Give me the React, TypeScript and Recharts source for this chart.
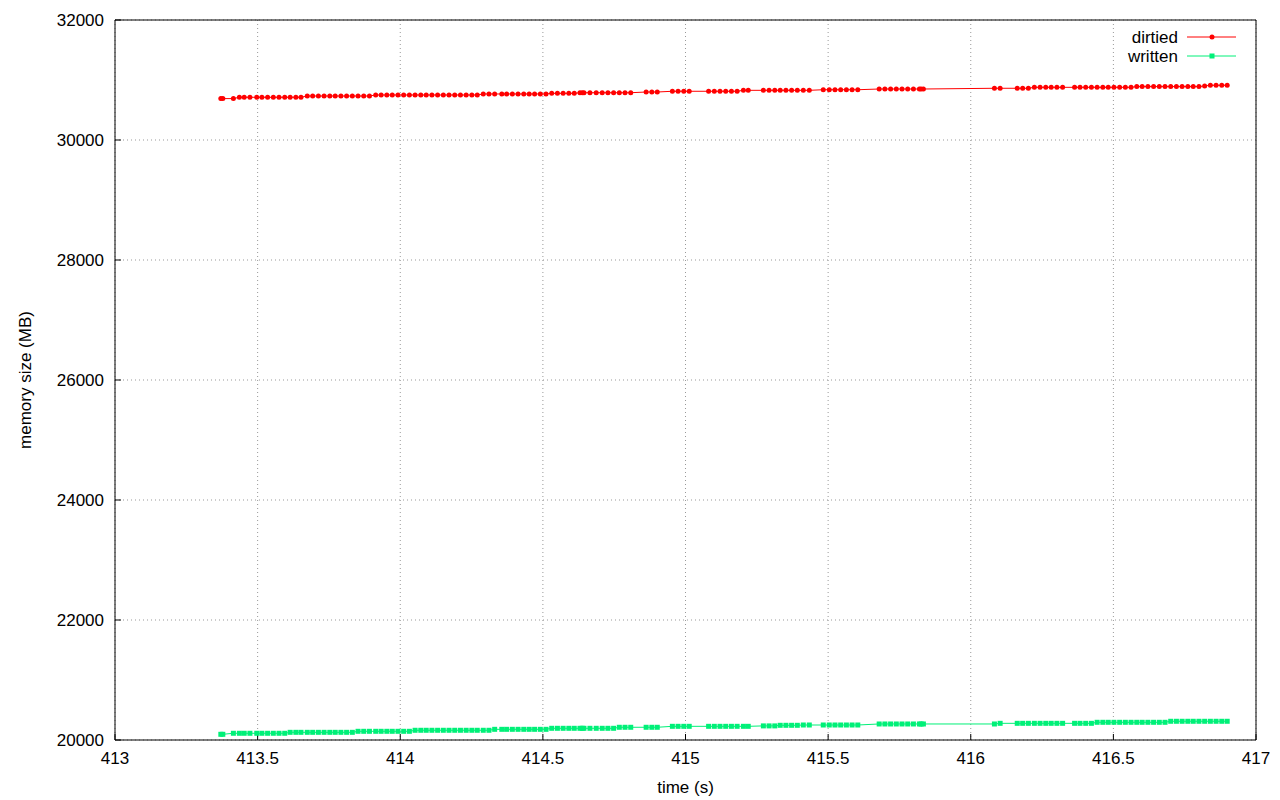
import React from 'react';
import { LineChart, Line, XAxis, YAxis, CartesianGrid, Legend } from 'recharts';

const TIME_S: number[] = [
  413.371, 413.378, 413.415, 413.436, 413.453, 413.473, 413.497, 413.515, 413.535, 413.555,
  413.575, 413.595, 413.614, 413.634, 413.652, 413.674, 413.693, 413.713, 413.733, 413.753,
  413.772, 413.792, 413.812, 413.832, 413.852, 413.872, 413.892, 413.914, 413.933, 413.953,
  413.972, 413.992, 414.012, 414.032, 414.052, 414.072, 414.091, 414.111, 414.131, 414.151,
  414.171, 414.191, 414.211, 414.231, 414.251, 414.270, 414.291, 414.311, 414.331,
  414.356, 414.373, 414.393, 414.413, 414.433, 414.452, 414.471, 414.491, 414.511,
  414.531, 414.551, 414.571, 414.591, 414.610,
  414.630, 414.638, 414.644, 414.665, 414.687, 414.708, 414.728, 414.748, 414.768, 414.788, 414.808,
  414.862, 414.882, 414.901,
  414.954, 414.974, 414.994, 415.013,
  415.081, 415.101, 415.121, 415.141, 415.161, 415.181,
  415.203, 415.220,
  415.273, 415.293, 415.313, 415.332, 415.352, 415.372, 415.392,
  415.413, 415.434,
  415.483, 415.504, 415.524, 415.544, 415.564, 415.584, 415.604,
  415.679, 415.699, 415.719, 415.739, 415.759, 415.779, 415.799, 415.820, 415.826, 415.834,
  416.083, 416.103,
  416.163, 416.182, 416.202,
  416.223, 416.243, 416.263, 416.282, 416.302, 416.322,
  416.364, 416.383, 416.403, 416.423, 416.443, 416.463, 416.482, 416.502, 416.522, 416.542, 416.562,
  416.582, 416.601, 416.621, 416.641, 416.661, 416.681, 416.701, 416.721, 416.741, 416.761, 416.780, 416.800,
  416.820,
  416.840, 416.860, 416.880, 416.899,
];

const DIRTIED_MB: number[] = [
  30690, 30690, 30690,
  30712, 30712, 30712, 30712, 30712, 30712, 30712, 30712, 30712, 30712, 30712, 30712,
  30733, 30733, 30733, 30733, 30733, 30733, 30733, 30733, 30733, 30733, 30733, 30733,
  30750, 30750, 30750, 30750, 30750, 30750, 30750, 30750, 30750, 30750,
  30750, 30750, 30750, 30750, 30750, 30750, 30750, 30750, 30750,
  30767, 30767, 30767, 30767, 30767, 30767, 30767, 30767, 30767, 30767, 30767, 30767,
  30778, 30778, 30778, 30778, 30778,
  30788, 30788, 30788, 30788, 30788, 30788, 30788, 30788, 30788, 30788, 30788,
  30800, 30800, 30800,
  30812, 30812, 30812, 30812, 30812, 30812, 30812, 30812, 30812, 30812,
  30828, 30828, 30828, 30828, 30828, 30828, 30828, 30828, 30828, 30828, 30828,
  30838, 30838, 30838, 30838, 30838, 30838, 30838,
  30850, 30850, 30850, 30850, 30850, 30850, 30850, 30850, 30850, 30850,
  30862, 30862, 30862, 30862, 30862,
  30878, 30878, 30878, 30878, 30878, 30878, 30878, 30878, 30878,
  30878, 30878, 30878, 30878, 30878, 30878, 30878, 30878,
  30890, 30890, 30890, 30890, 30890, 30890, 30890, 30890, 30890, 30890, 30890, 30890,
  30900,
  30912, 30912, 30912, 30912,
];

const WRITTEN_MB: number[] = [
  20095, 20095,
  20112, 20112, 20112, 20112, 20112, 20112, 20112, 20112, 20112, 20112,
  20128, 20128, 20128, 20128, 20128, 20128, 20128, 20128, 20128, 20128, 20128, 20128,
  20145, 20145, 20145, 20145, 20145, 20145, 20145, 20145, 20145, 20145,
  20162, 20162, 20162, 20162, 20162, 20162, 20162, 20162, 20162, 20162, 20162, 20162, 20162, 20162,
  20178, 20178, 20178, 20178, 20178, 20178, 20178, 20178, 20178, 20178,
  20195, 20195, 20195, 20195, 20195, 20195, 20195, 20195, 20195, 20195, 20195, 20195, 20195,
  20212, 20212, 20212, 20212, 20212, 20212,
  20228, 20228, 20228, 20228, 20228, 20228, 20228, 20228, 20228, 20228, 20228, 20228,
  20235, 20235, 20235,
  20245, 20245, 20245, 20245,
  20250, 20250, 20250, 20250, 20250, 20250, 20250, 20250, 20250,
  20267, 20267, 20267, 20267, 20267, 20267, 20267, 20267, 20267, 20267, 20267,
  20278, 20278, 20278, 20278, 20278, 20278, 20278, 20278, 20278, 20278, 20278, 20278, 20278, 20278,
  20295, 20295, 20295, 20295, 20295, 20295, 20295, 20295, 20295, 20295, 20295, 20295, 20295,
  20312, 20312, 20312, 20312, 20312, 20312, 20312, 20312, 20312, 20312, 20312,
];

const X_TICKS: number[] = [413, 413.5, 414, 414.5, 415, 415.5, 416, 416.5, 417];
const Y_TICKS: number[] = [20000, 22000, 24000, 26000, 28000, 30000, 32000];
const X_LABEL = 'time (s)';
const Y_LABEL = 'memory size (MB)';
const SERIES_NAMES = ['dirtied', 'written'];

const RED = '#ff0000';
const GREEN = '#00f078';
const FONT = '"Liberation Sans", Arial, sans-serif';
const FS = 17;

const rows = TIME_S.map((t, i) => ({ t, dirtied: DIRTIED_MB[i], written: WRITTEN_MB[i] }));

const RedDot = (p: any) => {
  if (p.cx == null || p.cy == null) return <g key={`d${p.index}`} />;
  return <circle key={`d${p.index}`} cx={p.cx} cy={p.cy} r={2.5} fill={RED} stroke="none" />;
};

const GreenDot = (p: any) => {
  if (p.cx == null || p.cy == null) return <g key={`w${p.index}`} />;
  return <rect key={`w${p.index}`} x={p.cx - 2.5} y={p.cy - 2.5} width={5} height={5} fill={GREEN} stroke="none" />;
};

const LegendBox = () => (
  <svg width={150} height={40} style={{ display: 'block', overflow: 'visible' }}>
    <text x={88} y={10} textAnchor="end" dominantBaseline="central" fontFamily={FONT} fontSize={FS} fill="#000">
      {SERIES_NAMES[0]}
    </text>
    <line x1={97} x2={146} y1={10} y2={10} stroke={RED} strokeWidth={1} />
    <circle cx={122} cy={10} r={2.5} fill={RED} />
    <text x={88} y={29} textAnchor="end" dominantBaseline="central" fontFamily={FONT} fontSize={FS} fill="#000">
      {SERIES_NAMES[1]}
    </text>
    <line x1={97} x2={146} y1={29} y2={29} stroke={GREEN} strokeWidth={1} />
    <rect x={119.5} y={26.5} width={5} height={5} fill={GREEN} />
  </svg>
);

const YLabel = (props: any) => {
  const vb = props.viewBox || { x: 0, y: 0, width: 0, height: 0 };
  const cx = vb.x + 25;
  const cy = vb.y + vb.height / 2;
  return (
    <text
      x={cx}
      y={cy}
      transform={`rotate(-90 ${cx} ${cy})`}
      textAnchor="middle"
      dominantBaseline="central"
      fontFamily={FONT}
      fontSize={FS}
      fill="#000"
    >
      {Y_LABEL}
    </text>
  );
};

const XLabel = (props: any) => {
  const vb = props.viewBox || { x: 0, y: 0, width: 0, height: 0 };
  return (
    <text
      x={vb.x + vb.width / 2}
      y={vb.y + 47}
      textAnchor="middle"
      dominantBaseline="central"
      fontFamily={FONT}
      fontSize={FS}
      fill="#000"
    >
      {X_LABEL}
    </text>
  );
};

const tickStyle = { fontFamily: FONT, fontSize: FS, fill: '#000' };

export default function App() {
  return (
    <div style={{ position: 'absolute', left: 0, top: 0, width: 1280, height: 800, background: '#ffffff', fontFamily: FONT }}>
      <LineChart width={1280} height={800} data={rows} margin={{ top: 0, right: 0, bottom: 0, left: 0 }}>
        <CartesianGrid stroke="#999999" strokeWidth={1} strokeDasharray="1 3" />
        <XAxis
          xAxisId={0}
          dataKey="t"
          type="number"
          domain={[413, 417]}
          ticks={X_TICKS}
          tickFormatter={(v: number) => String(v)}
          height={60}
          tickSize={-6}
          tickMargin={18}
          axisLine={{ stroke: '#000', strokeWidth: 1 }}
          tickLine={{ stroke: '#000', strokeWidth: 1 }}
          tick={tickStyle}
          interval={0}
          allowDataOverflow
          label={<XLabel />}
        />
        <XAxis
          xAxisId="top"
          orientation="top"
          dataKey="t"
          type="number"
          domain={[413, 417]}
          ticks={X_TICKS}
          height={20}
          tickSize={-6}
          axisLine={{ stroke: '#000', strokeWidth: 1 }}
          tickLine={{ stroke: '#000', strokeWidth: 1 }}
          tick={false}
          interval={0}
          allowDataOverflow
        />
        <YAxis
          yAxisId={0}
          type="number"
          domain={[20000, 32000]}
          ticks={Y_TICKS}
          width={115}
          tickSize={-6}
          tickMargin={17}
          axisLine={{ stroke: '#000', strokeWidth: 1 }}
          tickLine={{ stroke: '#000', strokeWidth: 1 }}
          tick={tickStyle}
          interval={0}
          allowDataOverflow
          label={<YLabel />}
        />
        <YAxis
          yAxisId="right"
          orientation="right"
          type="number"
          domain={[20000, 32000]}
          ticks={Y_TICKS}
          width={24}
          tickSize={-6}
          axisLine={{ stroke: '#000', strokeWidth: 1 }}
          tickLine={{ stroke: '#000', strokeWidth: 1 }}
          tick={false}
          interval={0}
          allowDataOverflow
        />
        <Legend
          layout="horizontal"
          verticalAlign="middle"
          align="center"
          content={() => <LegendBox />}
          wrapperStyle={{ position: 'absolute', left: 1090, top: 27, width: 150, height: 40 }}
        />
        <Line
          xAxisId={0}
          yAxisId={0}
          type="linear"
          dataKey="dirtied"
          name={SERIES_NAMES[0]}
          stroke={RED}
          strokeWidth={1}
          dot={RedDot}
          activeDot={false}
          isAnimationActive={false}
        />
        <Line
          xAxisId={0}
          yAxisId={0}
          type="linear"
          dataKey="written"
          name={SERIES_NAMES[1]}
          stroke={GREEN}
          strokeWidth={1}
          dot={GreenDot}
          activeDot={false}
          isAnimationActive={false}
        />
      </LineChart>
    </div>
  );
}
